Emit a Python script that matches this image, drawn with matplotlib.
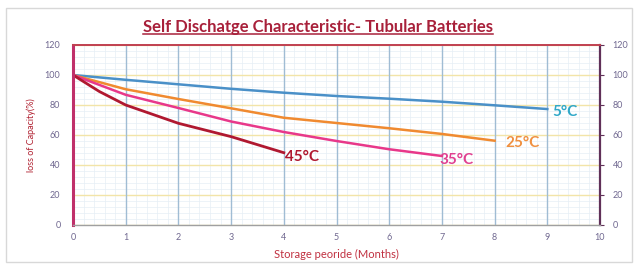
import matplotlib.pyplot as plt
from matplotlib.patches import Rectangle
from matplotlib.ticker import MultipleLocator

# =============================================================
# DATA
# =============================================================
months_5 = [0, 1, 2, 3, 4, 5, 6, 7, 8, 9]
cap_5 = [100, 96.8, 93.8, 90.8, 88.2, 86.0, 84.2, 82.2, 79.8, 77.3]

months_25 = [0, 1, 2, 3, 4, 5, 6, 7, 8]
cap_25 = [100, 90.5, 84.0, 77.8, 71.5, 68.0, 64.5, 60.7, 56.2]

months_35 = [0, 1, 2, 3, 4, 5, 6, 7]
cap_35 = [100, 86.8, 78.0, 69.0, 62.0, 56.0, 50.5, 46.0]

months_45 = [0, 0.5, 1, 2, 3, 4]
cap_45 = [100, 89, 80.0, 67.8, 58.9, 48.2]

labels = ['5°C', '25°C', '35°C', '45°C']
# label anchor (month, capacity)
label_pos = [(9.1, 75.5), (8.2, 54.5), (6.96, 43.5), (4.02, 45.5)]
colors = ['#4a90c8', '#f08a30', '#e8388a', '#b01830']
label_colors = ['#30a8c8', '#f09040', '#e04090', '#b01830']

# =============================================================
# PLOT
# =============================================================
plt.rcParams['font.family'] = ['Lato', 'DejaVu Sans']
fig = plt.figure(figsize=(6.36, 2.68), dpi=100)
fig.patches.append(Rectangle((6 / 636, 6 / 268), 626 / 636, 254 / 268,
                             transform=fig.transFigure, fill=False,
                             edgecolor='#d8d8d8', linewidth=1))

ax = fig.add_axes([73 / 636, 1 - 225 / 268, 527 / 636, 180 / 268])
ax.set_xlim(0, 10)
ax.set_ylim(0, 120)

ax.xaxis.set_major_locator(MultipleLocator(1))
ax.xaxis.set_minor_locator(MultipleLocator(0.2))
ax.yaxis.set_major_locator(MultipleLocator(20))
ax.yaxis.set_minor_locator(MultipleLocator(4))

ax.grid(False)
ax.grid(True, which='minor', axis='both', color='#e6eef5', linewidth=0.5)
ax.set_axisbelow(True)
# major grid drawn above the minor one
for gy in ax.get_yticks():
    ax.axhline(gy, color='#f2e4a8', linewidth=1.0, zorder=1)
for gx in ax.get_xticks():
    ax.axvline(gx, color='#a0bcd4', linewidth=1.0, zorder=1.1)

series = [(months_5, cap_5), (months_25, cap_25), (months_35, cap_35), (months_45, cap_45)]
for (xs, ys), c in zip(series, colors):
    ax.plot(xs, ys, color=c, linewidth=1.8 if c != '#b01830' else 2.0, zorder=3)

# curve labels
for lab, (lx, ly), c in zip(labels, label_pos, label_colors):
    ax.text(lx, ly, lab, color=c, fontsize=11, fontweight='bold',
            va='center', ha='left', zorder=4)

# spines
ax.spines['left'].set_color('#c0306a')
ax.spines['left'].set_linewidth(2.2)
ax.spines['top'].set_color('#c04050')
ax.spines['top'].set_linewidth(1.4)
ax.spines['right'].set_color('#603058')
ax.spines['right'].set_linewidth(1.6)
ax.spines['bottom'].set_color('#a0a0a0')
ax.spines['bottom'].set_linewidth(1.0)
for sp in ax.spines.values():
    sp.set_zorder(5)

tick_col = '#706890'
ax.tick_params(which='both', length=0, labelsize=6.5, colors=tick_col, pad=6)
ax.tick_params(axis='y', which='major', labelright=True, right=True, length=3,
               direction='out', color='#603058')
ax.tick_params(axis='y', which='major', left=False)

ax.set_xlabel('Storage peoride (Months)', fontsize=8, color='#c03040', labelpad=5)
ax.set_ylabel('loss of Capacity(%)', fontsize=6.5, color='#b02030', labelpad=6)

title = fig.text(0.5, 1 - 27 / 268, 'Self Dischatge Characteristic- Tubular Batteries',
                 ha='center', va='center', fontsize=12, fontweight='bold',
                 color='#a8203a')

# underline the title across its own width
fig.canvas.draw()
bb = title.get_window_extent().transformed(fig.transFigure.inverted())
fig.add_artist(plt.Line2D([bb.x0, bb.x1], [bb.y0 + 0.004, bb.y0 + 0.004],
                          color='#a8203a', linewidth=1.1))

fig.savefig('out.png', dpi=100)
